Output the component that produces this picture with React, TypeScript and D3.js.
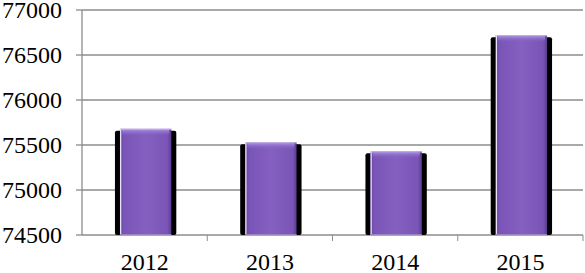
import React from "react";
import * as d3 from "d3";

const years = ["2012", "2013", "2014", "2015"];
const values = [75680, 75530, 75430, 76720];
const yTicks = [74500, 75000, 75500, 76000, 76500, 77000];

export default function App() {
  const W = 585, H = 273;
  const left = 82, right = 583, top = 10, bottom = 235;
  const x = d3.scaleBand<string>().domain(years).range([left, right]).padding(0);
  const y = d3.scaleLinear().domain([74500, 77000]).range([bottom, top]);
  const bw = x.bandwidth() * 0.41;
  const font = "'Liberation Serif', 'Times New Roman', serif";
  return (
    <svg width={W} height={H} style={{ position: "absolute", left: 0, top: 0 }}>
      <defs>
        <linearGradient id="barg" x1="0" x2="1" y1="0" y2="0">
          <stop offset="0" stopColor="#6a46a3" />
          <stop offset="0.08" stopColor="#7a55b8" />
          <stop offset="0.5" stopColor="#8460c0" />
          <stop offset="0.92" stopColor="#7a55b8" />
          <stop offset="1" stopColor="#5d3c92" />
        </linearGradient>
        <linearGradient id="topg" x1="0" x2="0" y1="0" y2="1">
          <stop offset="0" stopColor="#a78ae0" />
          <stop offset="1" stopColor="#8462c2" stopOpacity="0" />
        </linearGradient>
      </defs>
      <rect width={W} height={H} fill="#fff" />
      {yTicks.map((t) => (
        <g key={t}>
          <line x1={left} x2={right} y1={y(t)} y2={y(t)} stroke="#8c8c8c" strokeWidth={1.3} />
          <line x1={left - 6} x2={left} y1={y(t)} y2={y(t)} stroke="#8c8c8c" strokeWidth={1.3} />
          <text x={62} y={y(t) + 8} textAnchor="end" fontFamily={font} fontSize={24} fill="#000">
            {t}
          </text>
        </g>
      ))}
      <line x1={left} x2={left} y1={top} y2={bottom} stroke="#8c8c8c" strokeWidth={1.3} />
      {years.map((yr, i) =>
        i > 0 ? (
          <line key={yr} x1={x(yr)!} x2={x(yr)!} y1={bottom} y2={bottom + 6} stroke="#8c8c8c" strokeWidth={1} />
        ) : null
      )}
      <line x1={right} x2={right} y1={bottom} y2={bottom + 6} stroke="#8c8c8c" strokeWidth={1} />
      {years.map((yr, i) => {
        const cx = x(yr)! + x.bandwidth() / 2 + 1;
        const bx = cx - bw / 2;
        const by = y(values[i]);
        const bh = bottom - by;
        return (
          <g key={yr}>
            <rect x={bx - 5} y={by + 2} width={bw + 10} height={bh - 2} rx={2} fill="#000" />
            <rect x={bx} y={by} width={bw} height={bh} fill="url(#barg)" />
            <rect x={bx + 2} y={by + 1} width={bw - 4} height={6} fill="url(#topg)" />
            <line x1={bx} x2={bx + bw} y1={by + 0.5} y2={by + 0.5} stroke="#c9b8ec" strokeWidth={1} />
            <line x1={bx + 0.7} x2={bx + 0.7} y1={by} y2={bottom} stroke="#e8e0f6" strokeWidth={1.3} />
            <line x1={bx} x2={bx + bw} y1={bottom - 0.5} y2={bottom - 0.5} stroke="#9a86bf" strokeWidth={1} />
          </g>
        );
      })}
      {years.map((yr) => (
        <text key={yr} x={x(yr)! + x.bandwidth() / 2} y={270} textAnchor="middle" fontFamily={font} fontSize={24} fill="#000">
          {yr}
        </text>
      ))}
    </svg>
  );
}
